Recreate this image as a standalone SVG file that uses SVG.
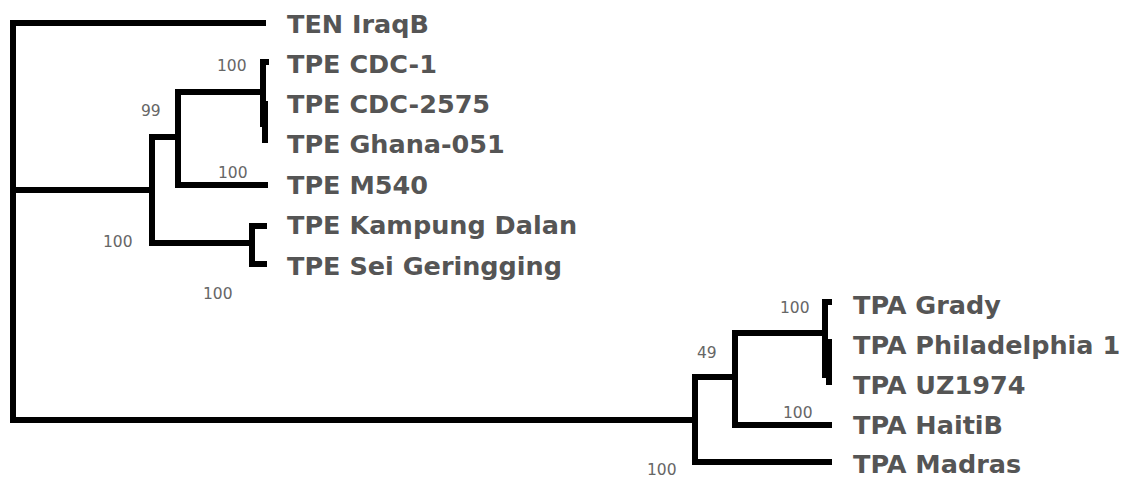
<svg xmlns="http://www.w3.org/2000/svg" width="1129" height="477" viewBox="0 0 1129 477">
<style>
.br{fill:none;stroke:#000;stroke-width:6;stroke-linecap:square}
.lab{font-family:"DejaVu Sans",sans-serif;font-weight:bold;font-size:25.5px;fill:#555}
.bs{font-family:"DejaVu Sans",sans-serif;font-size:15.5px;fill:#666}
</style>
<rect width="1129" height="477" fill="#fff"/>
<g id="connectors">
<path class="br" d="M263,23 H13 V420 H695"/>
<path class="br" d="M13,190 H152"/>
<path class="br" d="M152,137 V243"/>
<path class="br" d="M152,137 H178 V185 H265"/>
<path class="br" d="M178,137 V92 H263"/>
<path class="br" d="M263,62 V124"/>
<path class="br" d="M263,62 H266"/>
<path class="br" d="M265,104 V140"/>
<path class="br" d="M152,243 H252 V226 H264"/>
<path class="br" d="M252,243 V264 H264"/>
<path class="br" d="M695,377 V462 H829"/>
<path class="br" d="M695,377 H735 V425 H829"/>
<path class="br" d="M735,377 V333 H825"/>
<path class="br" d="M825,302 V375"/>
<path class="br" d="M825,302 H829"/>
<path class="br" d="M829,342 V382"/>
</g>
<g id="n-ten-iraqb"><text class="lab" x="287" y="33">TEN IraqB</text></g>
<g id="n-tpe-cdc1"><text class="lab" x="287" y="73">TPE CDC-1</text></g>
<g id="n-tpe-cdc2575"><text class="lab" x="287" y="113">TPE CDC-2575</text></g>
<g id="n-tpe-ghana"><text class="lab" x="287" y="153">TPE Ghana-051</text></g>
<g id="n-tpe-m540"><text class="lab" x="287" y="194">TPE M540</text></g>
<g id="n-tpe-kampung"><text class="lab" x="287" y="234">TPE Kampung Dalan</text></g>
<g id="n-tpe-sei"><text class="lab" x="287" y="275">TPE Sei Geringging</text></g>
<g id="n-tpa-grady"><text class="lab" x="853" y="314">TPA Grady</text></g>
<g id="n-tpa-phil"><text class="lab" x="853" y="354">TPA Philadelphia 1</text></g>
<g id="n-tpa-uz"><text class="lab" x="853" y="394">TPA UZ1974</text></g>
<g id="n-tpa-haiti"><text class="lab" x="853" y="434">TPA HaitiB</text></g>
<g id="n-tpa-madras"><text class="lab" x="853" y="473">TPA Madras</text></g>
<g id="support">
<text class="bs" x="217" y="71">100</text>
<text class="bs" x="141" y="116">99</text>
<text class="bs" x="218" y="178">100</text>
<text class="bs" x="103" y="247">100</text>
<text class="bs" x="203" y="299">100</text>
<text class="bs" x="780" y="313">100</text>
<text class="bs" x="697" y="358">49</text>
<text class="bs" x="783" y="418">100</text>
<text class="bs" x="647" y="475">100</text>
</g>
</svg>
